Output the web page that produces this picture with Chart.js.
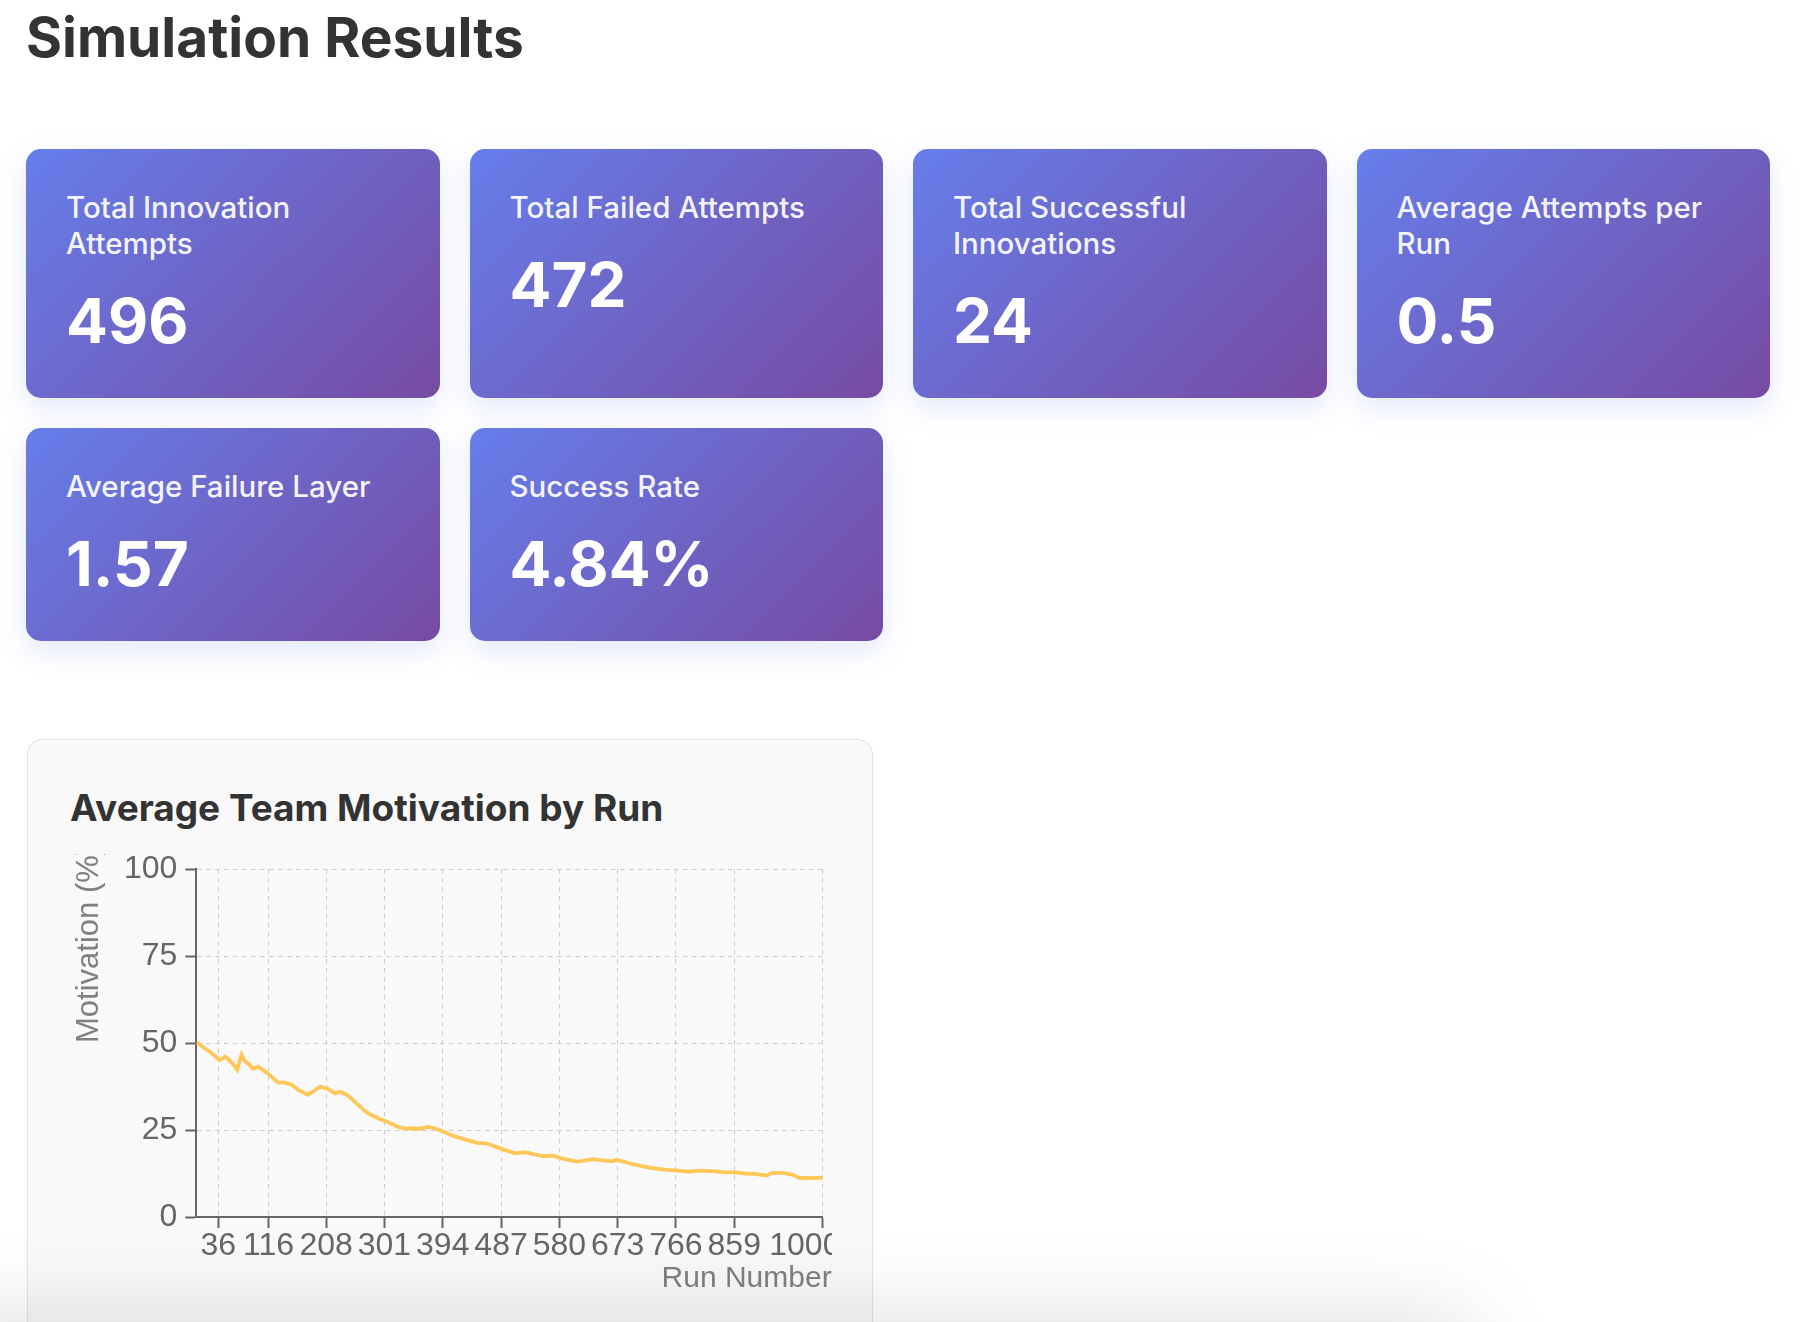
<!DOCTYPE html>
<html>
<head>
<meta charset="utf-8">
<title>Simulation Results</title>
<script src="https://cdn.jsdelivr.net/npm/chart.js@4.4.1/dist/chart.umd.min.js"></script>
<style>
  body {
    margin: 0;
    background: #fff;
    font-family: Inter, "Noto Sans", sans-serif;
    color: #333;
  }
  .page {
    padding: 0 30px 0 26px;
  }
  h1 {
    margin: 4px 0 79px 0;
    font-size: 55px;
    line-height: 1.2;
    font-weight: 700;
    color: #333;
  }
  .stats {
    display: grid;
    grid-template-columns: repeat(4, 1fr);
    gap: 30px;
    width: 1744px;
  }
  .stat {
    background: linear-gradient(135deg, #667eea 0%, #764ba2 100%);
    border-radius: 15px;
    padding: 40px;
    color: #fff;
    box-shadow: 0 10px 28px rgba(102, 126, 234, 0.18);
  }
  .stat .label {
    font-size: 29.5px;
    line-height: 36px;
    font-weight: 500;
    opacity: 0.92;
    margin-bottom: 23px;
  }
  .stat .value {
    font-size: 62px;
    line-height: 74px;
    font-weight: 700;
  }
  .chart-card {
    margin-top: 98px;
    margin-left: 1px;
    width: 760px;
    height: 700px;
    background: #f9f9f9;
    border: 1.5px solid #e2e2e2;
    border-radius: 15px;
    padding: 46px 42px 0 42px;
  }
  .chart-card h3 {
    margin: 0;
    font-size: 37px;
    line-height: 1.2;
    font-weight: 700;
    color: #333;
  }
  .canvas-box {
    margin-top: 24px;
    width: 762px;
    height: 446px;
    overflow: hidden;
  }
  .canvas-box canvas {
    display: block;
    margin-top: -9px;
  }
  .bottom-shade {
    position: fixed;
    left: -60px;
    top: calc(100vh + 6px);
    width: 1520px;
    height: 200px;
    background: #fff;
    box-shadow: 0 0 90px 10px rgba(0, 0, 0, 0.13);
  }
</style>
</head>
<body>
<div class="page">
  <h1>Simulation Results</h1>
  <div class="stats" id="stats"></div>
  <div class="chart-card">
    <h3>Average Team Motivation by Run</h3>
    <div class="canvas-box">
      <canvas id="motivationChart" width="808" height="455"></canvas>
    </div>
  </div>
</div>
<div class="bottom-shade"></div>

<script>
// summary figures shown on the cards
const statLabels = [
  "Total Innovation Attempts",
  "Total Failed Attempts",
  "Total Successful Innovations",
  "Average Attempts per Run",
  "Average Failure Layer",
  "Success Rate"
];
const statValues = ["496", "472", "24", "0.5", "1.57", "4.84%"];

// average team motivation (%), by run number
const runs = [
  1, 4, 14, 24, 38, 47, 57, 66, 73, 78, 86, 91, 99, 107, 118, 131, 142, 153, 163, 179,
  187, 198, 211, 222, 231, 243, 254, 265, 275, 291, 307, 323, 334, 347, 355, 371, 385, 398, 411, 427,
  449, 465, 481, 497, 510, 526, 540, 553, 569, 585, 598, 609, 617, 633, 649, 665, 670, 683, 694, 710,
  726, 747, 769, 787, 803, 822, 843, 862, 876, 892, 911, 919, 937, 951, 964, 983, 1000
];
const motivation = [
  50.0, 49.9, 48.5, 47.3, 45.1, 46.1, 44.5, 42.3, 46.6, 44.9, 43.7, 42.6, 43.2, 42.3, 40.8, 38.7, 38.6, 38.0, 36.6, 35.1,
  36.0, 37.5, 36.8, 35.5, 36.0, 34.9, 33.1, 31.2, 29.8, 28.3, 27.2, 25.9, 25.4, 25.5, 25.3, 25.9, 25.3, 24.3, 23.3, 22.4,
  21.3, 21.1, 20.0, 19.0, 18.3, 18.6, 18.0, 17.5, 17.6, 16.8, 16.3, 15.9, 16.1, 16.6, 16.3, 16.0, 16.4, 15.9, 15.3, 14.7,
  14.1, 13.6, 13.3, 13.0, 13.3, 13.2, 12.9, 12.8, 12.5, 12.4, 11.9, 12.7, 12.7, 12.2, 11.2, 11.2, 11.3
];

// run numbers printed under the x axis
const runTicks = [36, 116, 208, 301, 394, 487, 580, 673, 766, 859, 1000];
const motivationTicks = [0, 25, 50, 75, 100];

const xTitle = "Run Number";
const yTitle = "Motivation (%)";

document.addEventListener("DOMContentLoaded", function() {
    const stats = document.getElementById('stats');
    statLabels.forEach((label, i) => {
        const card = document.createElement('div');
        card.className = 'stat';
        card.innerHTML = '<div class="label"></div><div class="value"></div>';
        card.querySelector('.label').textContent = label;
        card.querySelector('.value').textContent = statValues[i];
        stats.appendChild(card);
    });

    const fontFamily = "'Liberation Sans', Arial, sans-serif";

    // axis titles: y starts at the middle of the plot and runs upward,
    // x sits a little past the right end of the axis
    const axisTitlePlugin = {
        id: 'axisTitles',
        afterDraw(chart) {
            const xs = chart.scales.x;
            const ys = chart.scales.y;
            const area = chart.chartArea;
            const ctx = chart.ctx;
            ctx.save();
            ctx.fillStyle = '#808080';
            ctx.textBaseline = 'middle';

            ctx.font = "31px " + fontFamily;
            ctx.save();
            ctx.translate(ys.left + 1 + 18, (area.top + area.bottom) / 2);
            ctx.rotate(-Math.PI / 2);
            ctx.textAlign = 'left';
            ctx.fillText(yTitle, 0, 0);
            ctx.restore();

            ctx.font = "30px " + fontFamily;
            ctx.textAlign = 'right';
            ctx.fillText(xTitle, area.right + 9, xs.bottom - 6 - 15);
            ctx.restore();
        }
    };

    const ctx = document.getElementById('motivationChart').getContext('2d');

    const data = {
        datasets: [{
            label: 'Average Motivation',
            data: runs.map((r, i) => ({x: r, y: motivation[i]})),
            borderColor: '#ffc658',
            borderWidth: 3.8,
            pointRadius: 0,
            fill: false,
            tension: 0
        }]
    };

    const lastRun = runTicks[runTicks.length - 1];

    const options = {
        responsive: false,
        animation: false,
        plugins: {
            legend: {display: false},
            tooltip: {enabled: false}
        },
        scales: {
            x: {
                type: 'linear',
                min: 1,
                max: 1000,
                afterBuildTicks: (axis) => {
                    axis.ticks = runTicks.map(v => ({value: v}));
                },
                ticks: {
                    autoSkip: false,
                    maxRotation: 0,
                    padding: 2,
                    color: '#666',
                    font: {family: fontFamily, size: 32, lineHeight: 1},
                    // last label is pulled in from the edge, like the original
                    callback: (v) => v === lastRun ? String(v) + '    ' : String(v)
                },
                grid: {
                    color: '#cccccc',
                    lineWidth: 1,
                    tickLength: 11,
                    tickColor: '#666',
                    tickWidth: 2
                },
                border: {color: '#666', width: 2, dash: [4.5, 4.5]},
                title: {
                    display: true,
                    text: xTitle,
                    color: 'rgba(0,0,0,0)',
                    font: {family: fontFamily, size: 30, lineHeight: 1},
                    padding: {top: 0, bottom: 6}
                }
            },
            y: {
                min: 0,
                max: 100,
                afterBuildTicks: (axis) => {
                    axis.ticks = motivationTicks.map(v => ({value: v}));
                },
                ticks: {
                    padding: 8,
                    color: '#666',
                    font: {family: fontFamily, size: 32, lineHeight: 1}
                },
                grid: {
                    color: '#cccccc',
                    lineWidth: 1,
                    tickLength: 11,
                    tickColor: '#666',
                    tickWidth: 2
                },
                border: {color: '#666', width: 2, dash: [4.5, 4.5]},
                title: {
                    display: true,
                    text: yTitle,
                    color: 'rgba(0,0,0,0)',
                    font: {family: fontFamily, size: 30, lineHeight: 1.2},
                    padding: {top: 1, bottom: 9}
                }
            }
        }
    };

    new Chart(ctx, {
        type: 'line',
        data: data,
        options: options,
        plugins: [axisTitlePlugin]
    });
});
</script>
</body>
</html>
